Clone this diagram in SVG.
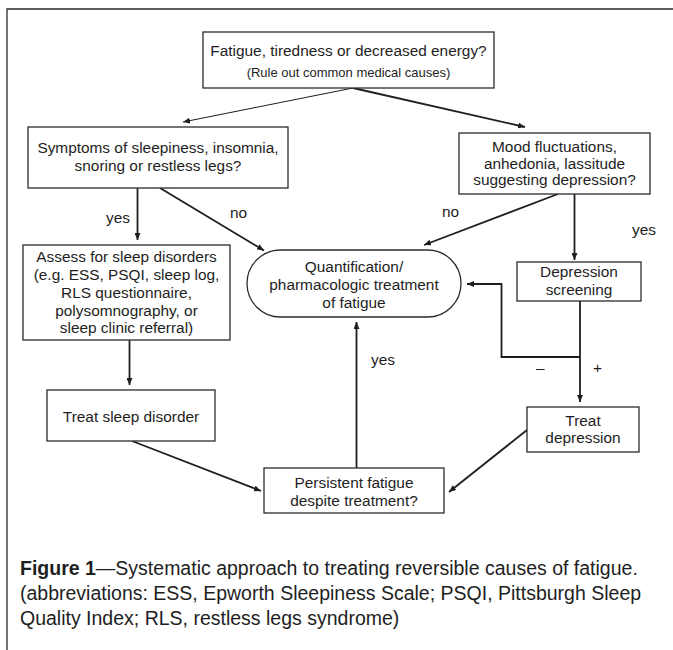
<svg xmlns="http://www.w3.org/2000/svg" width="673" height="650" viewBox="0 0 673 650">
<defs>
<style>
.box{fill:#fff;stroke:#2b2b2b;stroke-width:1.3}
.t{font-family:"Liberation Sans",Arial,sans-serif;font-size:15.4px;fill:#1e1e1e;text-anchor:middle}
.s{font-size:13px}
.lbl{font-family:"Liberation Sans",Arial,sans-serif;font-size:15.4px;fill:#1e1e1e}
.cap{font-family:"Liberation Sans",Arial,sans-serif;font-size:19.5px;fill:#1e1e1e}
.c{fill:none;stroke:#1e1e1e;stroke-width:1.8}
.thin{stroke-width:1}
</style>
<marker id="ah" markerUnits="userSpaceOnUse" markerWidth="8" markerHeight="6" refX="7" refY="3" orient="auto">
<path d="M0,0 L7,3 L0,6 z" fill="#1e1e1e"/>
</marker>
</defs>
<rect width="673" height="650" fill="#fff"/>
<path d="M7,650 V9 H673" fill="none" stroke="#2b2b2b" stroke-width="1.3"/>

<g id="connectors">
<line class="c thin" x1="353" y1="88" x2="183" y2="122" marker-end="url(#ah)"/>
<line class="c" x1="353" y1="88" x2="525" y2="127" marker-end="url(#ah)"/>
<line class="c" x1="137.5" y1="188" x2="137.5" y2="240" marker-end="url(#ah)"/>
<line class="c" x1="160" y1="188" x2="264" y2="250.5" marker-end="url(#ah)"/>
<line class="c" x1="558" y1="194" x2="424" y2="245" marker-end="url(#ah)"/>
<line class="c" x1="574.5" y1="194" x2="574.5" y2="260" marker-end="url(#ah)"/>
<line class="c" x1="580" y1="301" x2="580" y2="402" marker-end="url(#ah)"/>
<polyline class="c" points="580,357 501.5,357 501.5,284 467,284" marker-end="url(#ah)"/>
<line class="c" x1="129.5" y1="340" x2="129.5" y2="385" marker-end="url(#ah)"/>
<line class="c" x1="132" y1="441" x2="261" y2="491" marker-end="url(#ah)"/>
<line class="c" x1="527" y1="430" x2="449" y2="492" marker-end="url(#ah)"/>
<line class="c" x1="356.5" y1="468" x2="356.5" y2="322" marker-end="url(#ah)"/>
<text class="lbl" x="106" y="223">yes</text>
<text class="lbl" x="230" y="218">no</text>
<text class="lbl" x="442" y="217">no</text>
<text class="lbl" x="632" y="235">yes</text>
<text class="lbl" x="371" y="365">yes</text>
<text class="lbl" x="536" y="373">–</text>
<text class="lbl" x="593" y="373">+</text>
</g>

<g id="fatigue">
<rect class="box" x="203" y="32" width="291" height="56"/>
<text class="t" x="348.5" y="56">Fatigue, tiredness or decreased energy?</text>
<text class="t s" x="348.5" y="77">(Rule out common medical causes)</text>
</g>

<g id="sleepiness">
<rect class="box" x="28" y="127" width="260" height="61"/>
<text class="t" x="158" y="153">Symptoms of sleepiness, insomnia,</text>
<text class="t" x="158" y="171">snoring or restless legs?</text>
</g>

<g id="mood">
<rect class="box" x="459" y="133" width="191" height="61"/>
<text class="t" x="554.5" y="152">Mood fluctuations,</text>
<text class="t" x="554.5" y="168.5">anhedonia, lassitude</text>
<text class="t" x="554.5" y="185">suggesting depression?</text>
</g>

<g id="assess">
<rect class="box" x="23" y="245" width="207" height="95"/>
<text class="t" x="126.5" y="262">Assess for sleep disorders</text>
<text class="t" x="126.5" y="280">(e.g. ESS, PSQI, sleep log,</text>
<text class="t" x="126.5" y="298">RLS questionnaire,</text>
<text class="t" x="126.5" y="315.5">polysomnography, or</text>
<text class="t" x="126.5" y="333">sleep clinic referral)</text>
</g>

<g id="quantification">
<rect class="box" x="247" y="250" width="214" height="67" rx="33.5" ry="33.5"/>
<text class="t" x="354" y="272">Quantification/</text>
<text class="t" x="354" y="290">pharmacologic treatment</text>
<text class="t" x="354" y="308">of fatigue</text>
</g>

<g id="screening">
<rect class="box" x="517" y="262" width="124" height="39"/>
<text class="t" x="579" y="277">Depression</text>
<text class="t" x="579" y="295">screening</text>
</g>

<g id="treatsleep">
<rect class="box" x="47" y="390" width="168" height="51"/>
<text class="t" x="131" y="421.5">Treat sleep disorder</text>
</g>

<g id="treatdep">
<rect class="box" x="527" y="407" width="112" height="45"/>
<text class="t" x="583" y="426">Treat</text>
<text class="t" x="583" y="443">depression</text>
</g>

<g id="persistent">
<rect class="box" x="264" y="468" width="180" height="45"/>
<text class="t" x="354" y="488">Persistent fatigue</text>
<text class="t" x="354" y="506">despite treatment?</text>
</g>

<g id="caption">
<text class="cap" x="20" y="575"><tspan font-weight="bold">Figure 1</tspan>—Systematic approach to treating reversible causes of fatigue.</text>
<text class="cap" x="20" y="600">(abbreviations: ESS, Epworth Sleepiness Scale; PSQI, Pittsburgh Sleep</text>
<text class="cap" x="20" y="625">Quality Index; RLS, restless legs syndrome)</text>
</g>
</svg>
